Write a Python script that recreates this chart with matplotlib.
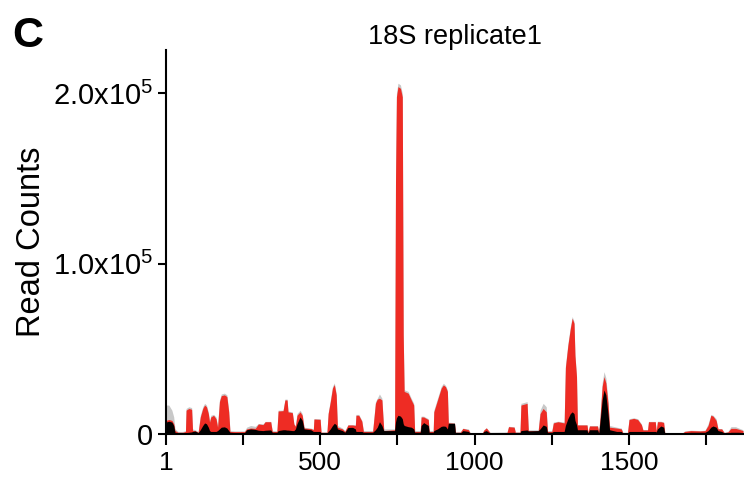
import numpy as np
import matplotlib
matplotlib.use("Agg")
import matplotlib.pyplot as plt

plt.rcParams['font.family'] = ['Liberation Sans', 'DejaVu Sans']
plt.rcParams['mathtext.fontset'] = 'custom'
plt.rcParams['mathtext.rm'] = 'Liberation Sans'
plt.rcParams['mathtext.it'] = 'Liberation Sans'

# positions along 18S rRNA (nt)
position = [1, 10, 20, 26, 30, 40, 55, 64, 66, 75, 84, 87, 95, 105, 112, 120, 126,
            132, 138, 142, 146, 155, 163, 168, 174, 180, 190, 198, 204, 208, 225,
            255, 262, 275, 290, 300, 315, 322, 340, 345, 360, 364, 380, 386, 393,
            396, 410, 415, 420, 425, 435, 442, 448, 470, 478, 480, 500, 503, 522,
            526, 533, 540, 546, 552, 556, 572, 580, 590, 605, 614, 616, 625, 635,
            640, 670, 679, 685, 692, 700, 706, 741, 744, 747, 752, 760, 766, 769,
            772, 785, 795, 803, 806, 824, 827, 835, 850, 853, 866, 868, 880, 892,
            899, 906, 912, 915, 935, 938, 954, 962, 980, 986, 1025, 1030, 1038, 1050,
            1105, 1110, 1128, 1132, 1147, 1150, 1170, 1174, 1206, 1212, 1222, 1232,
            1236, 1250, 1255, 1270, 1290, 1294, 1302, 1310, 1316, 1322, 1325, 1330,
            1333, 1364, 1367, 1372, 1398, 1402, 1406, 1413, 1419, 1425, 1432, 1437,
            1460, 1475, 1480, 1495, 1500, 1515, 1528, 1540, 1545, 1560, 1563, 1585,
            1588, 1592, 1603, 1612, 1616, 1672, 1680, 1700, 1730, 1746, 1756, 1765,
            1772, 1782, 1788, 1800, 1808, 1820, 1830, 1845, 1855, 1869]

# read counts, in thousands
grey_k = [17, 17, 14, 10, 3, 1.5, 1.5, 2, 15, 16, 15.5, 3, 2.5, 1.5, 11, 16, 18,
          17, 13, 8, 11, 11.5, 10, 5, 20, 23.5, 24, 23, 14, 2, 1.8,
          1.8, 4, 5, 4.5, 6.2, 6, 7.4, 7.4, 2, 1.8, 14, 14, 20.5, 20.5,
          13.5, 13, 6, 5, 12, 14, 12, 4, 3.5, 3, 9, 9, 1.2, 1.2,
          12.3, 20, 28, 30, 24, 5, 3.5, 2, 5.5, 5.5, 5.5, 11.5, 11.5, 8,
          2, 2, 19, 21, 23.5, 21, 3, 3, 150, 200, 206, 205, 200, 60,
          26, 25, 21, 18, 2, 2, 10.5, 10.5, 9, 2, 2, 14, 21, 28,
          29.8, 28.5, 26, 7, 6.5, 1.5, 1.5, 3.4, 3, 0.8, 0.8, 2.5, 3.7, 1,
          1.2, 4.5, 4.3, 1.3, 1.3, 18, 19, 2.5, 2.5, 14, 18, 16,
          2, 2, 7, 7.5, 7, 40, 53, 63, 69, 66, 47, 34,
          5.5, 5.5, 1.5, 5, 5, 1.5, 10, 30, 36.6, 33, 20, 5,
          4, 3.5, 1, 1, 9, 9.5, 9, 6, 2.6, 2.6, 7.4, 7.4,
          2, 7.5, 7.5, 7, 0.6, 0.6, 1.8, 2.2, 2, 2.2, 6, 11.5,
          11, 9, 3.2, 3.2, 1, 1.5, 4.3, 4.3, 3.5, 2.5]

red_k = [8, 8.5, 8, 6, 2, 1, 1, 1.5, 14, 15, 14.5, 2, 2, 1, 10, 15, 17,
         16, 12, 7, 10, 11, 9, 4, 19, 22.5, 23, 22, 13, 1.5, 1.4,
         1.4, 3, 3.5, 3.3, 5.9, 5.5, 7.2, 7.2, 1.5, 1.5, 13.5, 13.7, 20, 20,
         13, 12.5, 5.9, 4.5, 11, 13, 11, 3.5, 3.2, 2.5, 8.8, 8.6, 1, 1,
         12, 19, 27, 29, 23, 4, 3, 1.5, 5.3, 5.3, 5, 11, 11, 7.5,
         1.5, 1.5, 18, 20.5, 21, 20, 2, 2.5, 148, 198, 204, 203, 198, 58,
         25, 24, 20, 17, 1.5, 1.5, 10, 10, 8.5, 1.5, 1.5, 13, 20, 27,
         28.8, 27.8, 25, 6.5, 6.3, 1, 1, 3.3, 2.5, 0.5, 0.5, 2.3, 3.6, 0.8,
         0.9, 4.3, 4, 1, 1, 17, 18, 2, 2, 12, 15, 13,
         1.5, 1.5, 6.5, 7.2, 6.5, 39, 52, 62, 68, 65, 46, 33.7,
         5.3, 5.3, 1, 4.7, 4.7, 1, 9, 28, 33.7, 30, 18, 4,
         3.5, 3, 0.7, 0.7, 8.5, 9.2, 8.5, 5.5, 2.4, 2.4, 7.2, 7.2,
         1.8, 7.2, 7.2, 6.8, 0.4, 0.4, 1.5, 2, 1.8, 2, 5, 11,
         10.5, 8, 3, 3, 0.8, 1.2, 3.3, 3.3, 2.8, 2]

black_k = [7, 7.5, 7, 5, 1, 0.5, 0.4, 0.5, 0.8, 1, 1.2, 1.5, 1.8, 0.8, 2.5, 5, 6.5,
           6, 4, 2, 1.5, 1.5, 1.5, 2, 3, 4, 4.2, 3.5, 2, 1, 0.8,
           0.8, 2.5, 3, 2.7, 2.2, 2, 2.2, 2.4, 1, 1, 2, 2.5, 2.5, 2.3,
           2.3, 2, 2, 3, 6, 10, 8, 3, 2.5, 1.5, 1.5, 1.5, 0.5, 0.5,
           1.5, 3, 5, 6.3, 5.5, 3, 2, 1, 3.8, 3.9, 3, 1.5, 1.5, 1.5,
           1, 1, 2.5, 4, 7.2, 5, 2, 2, 7, 9.5, 11, 10.5, 9, 6,
           5, 4.3, 4, 3, 1, 1, 5, 6.7, 5, 1, 1, 2, 3, 4.5,
           4.7, 4.5, 3, 6.3, 6.3, 0.5, 0.5, 2, 1.5, 0.3, 0.3, 1.5, 2, 0.4,
           0.4, 0.9, 1, 0.6, 0.6, 2, 2.4, 1.8, 2, 3, 5.3, 4.5,
           1, 1, 1.5, 1.5, 1.5, 5, 9, 12, 13, 12, 8, 5.5,
           2.5, 2.5, 0.5, 2.5, 2.5, 0.5, 7, 20, 25.9, 23, 12, 2.5,
           1.5, 1.5, 0.4, 0.4, 1.5, 1.5, 1.5, 1.5, 1.5, 1.5, 1.5, 1.5,
           1.2, 3, 4.7, 4, 0.2, 0.2, 0.8, 1, 1, 1, 2, 4,
           4.7, 4, 2, 1.5, 0.5, 0.6, 1, 1, 1, 0.8]

x = np.array(position)
grey = np.array(grey_k) * 1000
red = np.array(red_k) * 1000
black = np.array(black_k) * 1000

fig = plt.figure(figsize=(7.44, 4.79), dpi=100)
ax = fig.add_axes([166 / 744, 45 / 479, 577 / 744, 384 / 479])

ax.fill_between(x, 0, grey, color='#c8c8c8', lw=0)
ax.fill_between(x, 0, red, color='#ee2c24', lw=0)
ax.fill_between(x, 0, black, color='black', lw=0)

ax.set_xlim(1, 1869)
ax.set_ylim(0, 225500)

ax.set_xticks([1, 250, 500, 750, 1000, 1250, 1500, 1750])
ax.set_xticklabels(['1', '', '500', '', '1000', '', '1500', ''])
ax.set_yticks([0, 100000, 200000])
ax.set_yticklabels(['0', '1.0x10$^5$', '2.0x10$^5$'])

for s in ['top', 'right']:
    ax.spines[s].set_visible(False)
for s in ['left', 'bottom']:
    ax.spines[s].set_linewidth(1.5)
ax.tick_params(axis='x', length=8, width=1.5, labelsize=19, pad=4)
ax.tick_params(axis='y', length=6, width=1.5, labelsize=21, pad=3)

ax.set_ylabel('Read Counts', fontsize=23.5)
ax.yaxis.set_label_coords(-0.207, 0.5)
ax.set_title('18S replicate1', fontsize=19.5, pad=4)

fig.text(12 / 744, 1 - 47 / 479, 'C', fontsize=31, fontweight='bold')

fig.savefig('out.png', dpi=100)
